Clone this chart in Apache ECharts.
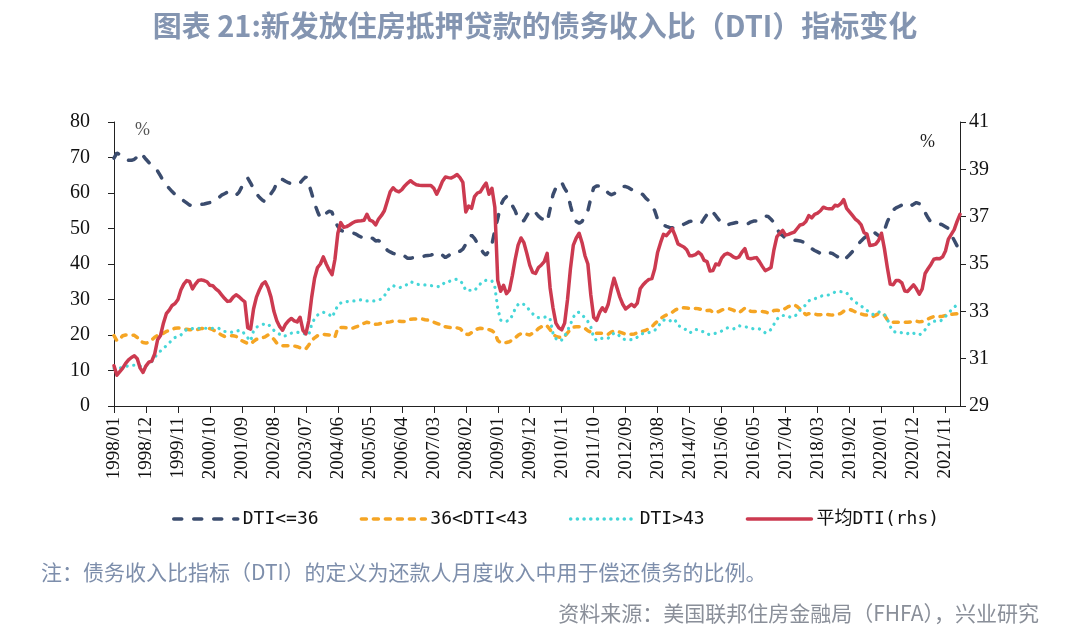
<!DOCTYPE html>
<html>
<head>
<meta charset="utf-8">
<script src="https://cdn.jsdelivr.net/npm/echarts@6/dist/echarts.min.js"></script>
<style>
html,body{margin:0;padding:0;background:#fff;}
#chart{width:1070px;height:635px;}
</style>
</head>
<body>
<div id="chart"></div>
<script>
// ---------- data ----------
const startYear = 1998, startMonth = 1, monthCount = 292; // 1998/01 .. 2022/04
const categories = [];
for (let k = 0; k < monthCount; k++) {
  const y = startYear + Math.floor((startMonth - 1 + k) / 12);
  const m = ((startMonth - 1 + k) % 12) + 1;
  categories.push(y + '/' + (m < 10 ? '0' + m : '' + m));
}

const seriesNames = ['DTI<=36', '36<DTI<43', 'DTI>43', '平均DTI(rhs)'];

const dtiLow = [
69.8,71.3,70.8,70.0,69.5,69.2,69.2,69.5,70.2,71.3,70.5,69.5,
68.6,67.8,67.2,66.2,64.8,63.3,62.2,61.3,60.4,59.6,58.8,58.2,
57.8,57.2,56.6,56.4,56.5,56.6,56.8,56.9,57.1,57.3,57.4,57.9,
58.6,59.4,59.8,60.2,60.3,59.6,59.4,60.2,61.8,63.5,64.2,62.8,
61.2,59.8,58.8,58.0,57.5,58.2,59.8,61.0,62.8,64.0,63.8,63.3,
62.9,62.6,62.4,62.6,62.8,63.8,64.6,62.6,59.9,57.0,54.8,52.9,
53.3,54.3,54.9,54.6,52.0,50.6,49.5,49.2,49.0,48.9,48.8,48.5,
48.0,47.6,47.2,47.4,47.6,47.2,46.5,46.6,46.0,45.0,43.9,43.4,
43.0,42.7,42.9,42.8,42.2,41.6,41.6,41.8,41.8,41.9,42.0,42.3,
42.4,42.5,42.8,43.0,43.2,42.5,41.8,42.3,43.0,43.6,43.5,43.6,
44.2,45.6,47.4,48.1,47.2,45.8,44.5,43.2,42.5,43.8,45.5,49.5,
52.8,56.5,58.2,59.0,58.2,56.5,55.0,52.8,52.0,52.2,53.6,55.0,
55.2,54.5,53.5,52.8,52.5,51.8,55.5,59.5,61.5,62.8,63.0,61.3,
60.0,56.5,53.5,52.0,51.5,52.0,53.5,55.0,58.5,61.5,62.0,62.0,
61.8,61.0,60.0,59.5,59.8,60.5,61.2,61.8,61.8,61.5,61.0,60.6,
60.3,60.0,59.5,58.5,57.8,56.5,55.0,52.5,51.5,51.0,50.6,50.3,
50.2,50.0,50.6,50.8,51.2,51.6,52.0,52.1,51.8,51.5,51.5,52.8,
54.0,55.2,54.6,53.6,52.5,51.8,51.0,51.0,51.3,51.5,51.7,51.6,
51.4,51.2,51.3,51.8,52.1,52.1,52.3,53.0,53.5,53.4,52.6,51.7,
50.0,48.6,48.0,47.2,47.0,46.8,46.7,46.6,46.5,46.2,45.6,44.8,
44.3,43.8,43.4,43.0,43.2,43.6,43.2,43.0,42.5,42.0,41.3,40.9,
41.8,42.6,43.5,44.5,45.6,46.5,47.3,48.0,48.8,49.2,48.6,48.0,
47.3,49.5,51.9,53.6,55.2,55.8,56.2,56.6,57.1,56.8,56.4,56.8,
57.3,57.0,55.8,54.5,53.0,51.8,51.7,51.5,51.3,51.0,50.5,50.0,
48.2,46.7,45.1,44.2
];

const dtiMid = [
19.8,18.4,18.8,19.8,20.0,20.0,20.0,19.9,19.3,18.2,17.9,17.7,
18.0,18.6,19.4,19.9,20.0,20.5,21.0,21.3,21.6,21.9,22.0,21.9,
21.7,21.6,21.5,21.5,21.4,21.6,21.8,21.9,21.9,21.8,21.5,21.0,
20.5,20.0,19.6,19.7,19.8,19.8,19.6,19.0,18.4,18.0,17.6,17.5,
18.2,18.8,19.0,19.2,19.5,20.0,19.6,18.8,17.7,17.3,17.0,17.0,
17.0,17.0,16.9,16.7,16.4,16.2,16.1,17.2,18.4,19.2,19.8,20.0,
20.2,20.1,20.0,19.6,19.4,22.0,22.1,22.1,22.0,21.9,21.9,22.2,
22.5,22.8,23.3,23.6,23.4,23.2,23.0,23.1,23.3,23.5,23.6,23.7,
23.9,23.9,23.9,23.8,23.8,24.0,24.4,24.5,24.5,24.4,24.5,24.3,
24.2,23.9,23.6,23.3,23.0,22.8,22.3,22.2,22.1,22.1,22.0,21.8,
21.0,20.3,20.1,20.7,21.3,21.7,21.9,21.8,21.7,21.5,21.2,20.6,
18.5,17.8,17.7,17.9,18.1,18.6,19.2,19.9,20.4,20.5,20.2,20.0,
20.5,21.0,21.8,22.3,22.8,22.5,21.5,20.2,19.6,19.4,19.2,19.6,
20.6,21.6,22.2,22.3,22.3,22.2,21.9,21.2,20.8,20.5,20.5,20.5,
20.5,20.4,20.2,20.8,21.1,21.0,20.8,20.5,20.2,20.2,20.2,20.3,
20.6,20.9,21.1,21.4,21.8,22.3,23.2,23.9,24.6,25.2,25.6,26.0,
26.4,27.0,27.4,27.6,27.7,27.6,27.5,27.5,27.5,27.4,27.2,26.9,
26.9,27.0,26.4,26.3,26.6,27.0,27.3,27.5,27.3,27.0,26.6,26.3,
26.9,27.6,27.2,26.7,26.6,26.6,26.6,26.6,26.5,26.2,26.3,26.9,
27.0,26.8,27.1,27.5,28.0,28.3,28.5,28.0,27.3,26.5,25.7,26.0,
26.1,25.9,25.7,25.7,25.9,25.8,25.7,25.6,25.6,25.8,26.1,26.7,
27.0,27.2,26.9,26.5,26.2,25.9,25.7,25.6,25.4,25.2,25.6,26.0,
25.9,25.6,24.3,23.8,23.6,23.6,23.6,23.6,23.6,23.6,23.7,23.9,
23.9,23.7,23.8,24.1,24.5,24.9,25.2,25.2,25.2,25.3,25.5,25.6,
25.8,25.9,26.0,26.1
];

const dtiHigh = [
10.6,10.5,10.7,10.9,11.1,11.3,11.4,11.5,11.4,11.2,11.0,11.3,
11.8,12.5,13.6,14.8,15.5,16.2,17.0,17.8,18.6,19.3,19.6,20.0,
20.8,21.6,21.7,21.8,21.9,21.9,21.9,21.9,21.9,21.9,21.9,21.8,
21.9,21.5,21.0,20.9,20.8,20.8,21.0,21.3,21.2,20.2,19.2,18.3,
21.2,22.2,22.6,22.9,23.2,23.1,22.2,21.3,20.7,20.2,19.6,19.8,
20.3,20.5,20.7,20.8,20.6,20.5,20.2,20.0,23.0,24.6,25.6,26.1,
26.4,26.1,25.8,25.0,26.6,28.4,29.0,29.3,29.4,29.5,29.6,29.6,
29.8,29.9,29.7,29.6,29.6,29.6,29.6,29.8,30.2,31.0,32.5,33.3,
33.9,33.6,33.3,33.5,33.9,34.3,35.0,34.7,34.3,34.2,34.1,34.1,
34.0,33.9,33.8,33.7,33.6,34.2,35.0,35.0,35.3,35.6,35.7,35.3,
34.4,32.5,32.6,32.6,32.5,33.5,34.4,35.2,35.4,35.5,35.2,33.5,
27.5,24.2,23.8,23.9,24.1,25.5,27.4,28.6,29.0,28.6,28.0,26.8,
26.0,25.2,24.9,24.9,25.0,25.2,24.5,20.5,19.0,18.3,18.6,19.6,
21.2,23.0,25.0,26.3,26.4,25.6,24.9,23.8,22.3,19.2,18.5,18.9,
19.1,19.1,19.1,20.0,20.5,20.5,19.6,18.9,18.7,18.6,18.7,18.9,
19.4,20.2,20.4,20.5,20.7,21.0,21.3,22.3,23.3,24.2,24.1,23.8,
24.5,24.2,22.7,22.3,21.9,21.3,20.6,21.0,21.6,21.4,21.0,20.9,
20.3,20.1,20.3,20.5,20.8,21.1,21.6,22.0,21.9,21.7,22.0,22.6,
22.4,22.3,22.2,22.0,21.7,21.7,21.7,21.4,20.6,20.8,21.6,23.0,
24.4,25.2,25.5,25.5,25.2,24.9,25.3,25.8,27.0,27.7,28.6,29.6,
30.1,30.2,30.5,30.9,31.1,31.2,31.3,31.7,32.1,32.2,32.2,32.1,
31.9,30.8,29.9,29.2,28.8,28.2,27.5,26.9,26.3,25.8,26.0,26.5,
26.2,25.8,24.5,22.4,21.0,20.8,20.9,20.6,20.3,20.4,20.8,20.5,
20.2,20.0,20.6,21.5,22.8,23.5,23.9,23.9,23.9,24.3,25.2,26.2,
27.0,27.8,28.6,28.8
];

const dtiAvg = [
30.7,30.3,30.45,30.6,30.8,30.95,31.05,31.12,31.0,30.6,30.42,30.7,
30.85,30.9,31.2,31.8,31.98,32.5,32.9,33.05,33.25,33.33,33.5,33.9,
34.15,34.3,34.26,33.95,34.15,34.3,34.33,34.3,34.25,34.1,34.08,33.95,
33.85,33.7,33.55,33.42,33.44,33.6,33.7,33.62,33.5,33.4,32.3,32.25,
33.1,33.6,33.9,34.15,34.25,34.0,33.6,33.0,32.6,32.35,32.2,32.45,
32.6,32.7,32.6,32.55,32.75,32.2,32.05,32.6,33.6,34.4,34.85,35.0,
35.3,35.0,34.75,34.55,35.2,36.3,36.75,36.55,36.58,36.65,36.73,36.8,
36.82,36.83,36.85,37.1,36.85,36.8,36.65,36.9,37.05,37.25,37.65,38.05,
38.22,38.1,38.05,38.14,38.3,38.42,38.52,38.42,38.35,38.33,38.32,38.32,
38.32,38.32,38.2,37.95,38.2,38.5,38.68,38.65,38.63,38.7,38.78,38.65,
38.45,37.2,37.45,37.35,37.85,38.0,38.05,38.25,38.42,37.95,38.2,37.4,
34.3,33.85,34.1,33.75,33.9,34.5,35.2,35.8,36.1,35.9,35.45,34.95,
34.65,34.6,34.85,34.96,35.1,35.45,34.0,33.15,32.5,32.3,32.22,32.5,
33.5,34.8,35.8,36.1,36.3,35.9,35.35,35.0,33.7,32.75,32.62,32.95,
33.15,33.0,33.3,33.9,34.4,34.0,33.6,33.3,33.1,33.2,33.3,33.2,
33.35,33.95,34.12,34.25,34.35,34.38,34.8,35.5,35.9,36.25,36.2,36.35,
36.5,36.2,35.85,35.78,35.72,35.6,35.35,35.35,35.4,35.5,35.4,35.15,
35.1,34.7,34.72,35.0,34.96,35.25,35.4,35.45,35.4,35.3,35.25,35.3,
35.5,35.65,35.25,35.22,35.25,35.27,35.1,34.9,34.72,34.78,34.85,35.6,
36.15,36.3,36.42,36.22,36.25,36.3,36.35,36.5,36.65,36.68,36.8,37.05,
36.95,37.1,37.15,37.25,37.4,37.35,37.33,37.33,37.48,37.45,37.55,37.72,
37.35,37.2,37.05,36.9,36.8,36.65,36.32,36.26,35.78,35.8,35.84,36.0,
36.3,35.65,34.85,34.15,34.12,34.3,34.3,34.2,33.86,33.84,33.98,34.12,
33.95,33.72,33.95,34.6,34.8,34.98,35.2,35.23,35.22,35.3,35.55,36.05,
36.25,36.45,36.8,37.1
];

const leftTicks = {min: 0, max: 80, interval: 10};
const rightTicks = {min: 29, max: 41, interval: 2};

// ---------- chart ----------
const chart = echarts.init(document.getElementById('chart'), null, {renderer: 'canvas'});
const serif = "'Liberation Serif', 'Times New Roman', serif";
const cjk = "'Noto Sans CJK SC', sans-serif";

const option = {
  backgroundColor: '#ffffff',
  animation: false,
  title: [
    {
      text: '图表 21:新发放住房抵押贷款的债务收入比（DTI）指标变化',
      left: 'center', top: 6,
      textStyle: {fontFamily: cjk, fontSize: 29, fontWeight: 'bold', color: '#8495b1'}
    },
    {
      text: '注：债务收入比指标（DTI）的定义为还款人月度收入中用于偿还债务的比例。',
      left: 36, top: 557,
      textStyle: {fontFamily: cjk, fontSize: 21, fontWeight: 'normal', color: '#7d8eab'}
    },
    {
      text: '资料来源：美国联邦住房金融局（FHFA），兴业研究',
      right: 26, top: 598,
      textStyle: {fontFamily: cjk, fontSize: 21, fontWeight: 'normal', color: '#8a8f99'}
    }
  ],
  graphic: [
    {type: 'text', left: 135, top: 121, style: {text: '%', font: "18px 'Liberation Serif', serif", fill: '#555'}},
    {type: 'text', left: 920, top: 133, style: {text: '%', font: "18px 'Liberation Serif', serif", fill: '#222'}}
  ],
  legend: {
    data: seriesNames,
    left: 167, top: 505,
    itemWidth: 64, itemHeight: 14, itemGap: 41,
    itemStyle: {opacity: 0},
    lineStyle: {width: 3.5, cap: 'round'},
    textStyle: {fontFamily: "'DejaVu Sans Mono', 'Noto Sans CJK SC', monospace", fontSize: 18, color: '#111'}
  },
  grid: {left: 114, right: 110, top: 122, bottom: 229, containLabel: false},
  xAxis: {
    type: 'category',
    data: categories,
    boundaryGap: false,
    axisLine: {lineStyle: {color: '#222', width: 1}},
    axisTick: {interval: 10, length: 7, lineStyle: {color: '#222'}},
    axisLabel: {interval: 10, rotate: 90, margin: 11, fontFamily: serif, fontSize: 19, color: '#111'},
    splitLine: {show: false}
  },
  yAxis: [
    {
      type: 'value', min: leftTicks.min, max: leftTicks.max, interval: leftTicks.interval,
      axisLine: {show: true, lineStyle: {color: '#222'}},
      axisTick: {show: true, length: 6, lineStyle: {color: '#222'}},
      axisLabel: {fontFamily: serif, fontSize: 20, color: '#111', margin: 24},
      splitLine: {show: false}
    },
    {
      type: 'value', min: rightTicks.min, max: rightTicks.max, interval: rightTicks.interval,
      position: 'right',
      axisLine: {show: true, lineStyle: {color: '#222'}},
      axisTick: {show: true, length: 6, lineStyle: {color: '#222'}},
      axisLabel: {fontFamily: serif, fontSize: 20, color: '#111', margin: 9},
      splitLine: {show: false}
    }
  ],
  series: [
    {
      name: seriesNames[0], type: 'line', yAxisIndex: 0, data: dtiLow,
      symbol: 'none', smooth: false, z: 3,
      lineStyle: {color: '#3b4c6e', width: 3.5, type: [8, 12], cap: 'round'},
      itemStyle: {color: '#3b4c6e'}
    },
    {
      name: seriesNames[1], type: 'line', yAxisIndex: 0, data: dtiMid,
      symbol: 'none', smooth: false, z: 3,
      lineStyle: {color: '#f5a524', width: 3.5, type: [5, 7], cap: 'round'},
      itemStyle: {color: '#f5a524'}
    },
    {
      name: seriesNames[2], type: 'line', yAxisIndex: 0, data: dtiHigh,
      symbol: 'none', smooth: false, z: 3,
      lineStyle: {color: '#45d6d8', width: 3.2, type: [0.1, 6.6], cap: 'round'},
      itemStyle: {color: '#45d6d8'}
    },
    {
      name: seriesNames[3], type: 'line', yAxisIndex: 1, data: dtiAvg,
      symbol: 'none', smooth: false, z: 4,
      lineStyle: {color: '#cc3a50', width: 3.5, type: 'solid', cap: 'round', join: 'round'},
      itemStyle: {color: '#cc3a50'}
    }
  ]
};
chart.setOption(option);
</script>
</body>
</html>
